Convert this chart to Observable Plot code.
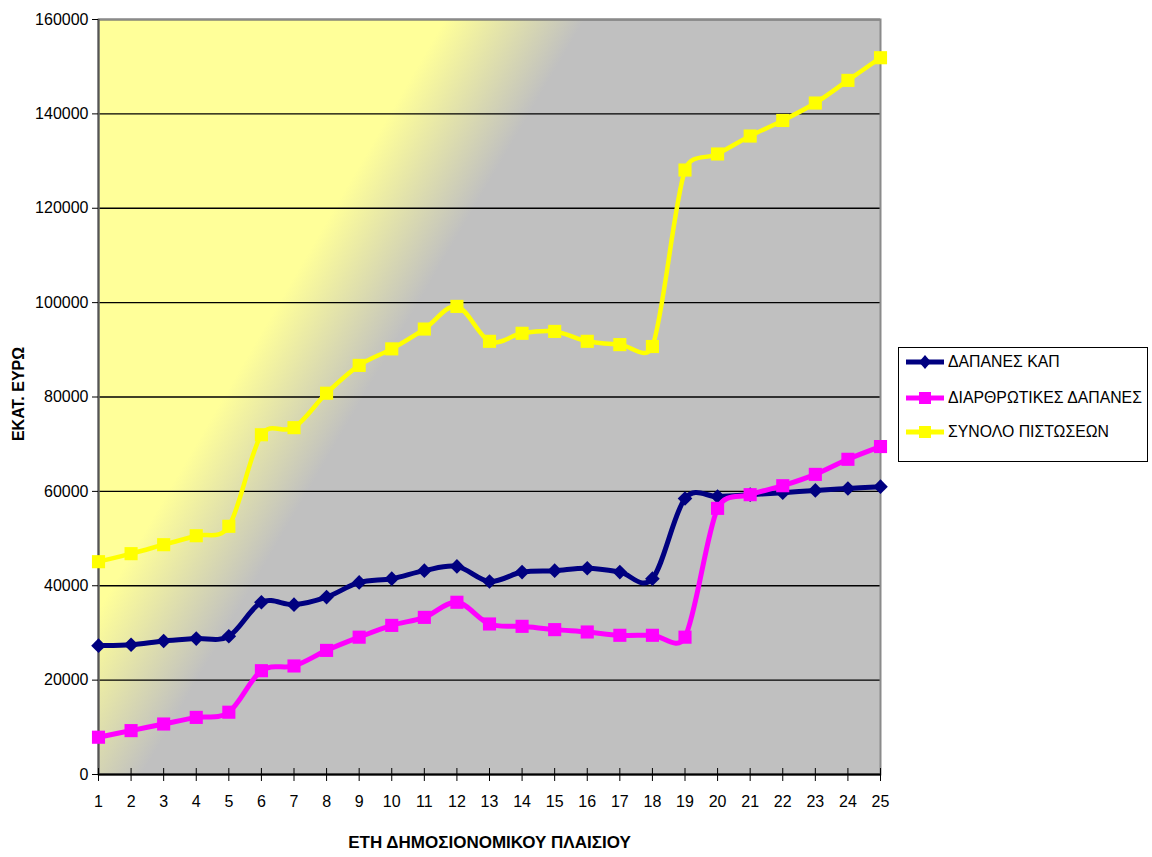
<!DOCTYPE html>
<html>
<head>
<meta charset="utf-8">
<script src="https://cdn.jsdelivr.net/npm/d3@7"></script>
<script src="https://cdn.jsdelivr.net/npm/@observablehq/plot@0.6"></script>
<style>
  html, body { margin: 0; padding: 0; background: white; }
  #wrap { position: relative; width: 1152px; height: 857px; font-family: "Liberation Sans", Arial, sans-serif; }
  #legend { position: absolute; left: 898px; top: 347px; width: 248px; height: 113px; border: 1px solid black; background: white; }
  .row { position: absolute; left: 6px; height: 20px; display: flex; align-items: center; color: black; white-space: nowrap; }
  .row svg { margin-right: 3px; flex: none; }
  .row span { display: inline-block; font-size: 17px; transform: scaleX(0.93); transform-origin: left center; }
</style>
</head>
<body>
<div id="wrap"></div>
<script>
const years = d3.range(1, 26);
const yTicks = d3.range(0, 160001, 20000);
const seriesNames = ["ΔΑΠΑΝΕΣ ΚΑΠ", "ΔΙΑΡΘΡΩΤΙΚΕΣ ΔΑΠΑΝΕΣ", "ΣΥΝΟΛΟ ΠΙΣΤΩΣΕΩΝ"];
const kap = [27300,27500,28300,28800,29300,36500,36000,37600,40700,41500,43200,44100,40900,42900,43200,43700,42900,41500,58500,58900,59300,59700,60200,60600,61000];
const diarth = [7900,9300,10700,12100,13200,22000,23000,26300,29100,31600,33300,36500,31900,31400,30700,30200,29500,29500,29100,56400,59300,61200,63600,66800,69500];
const synolo = [45100,46800,48700,50600,52600,72000,73500,80800,86700,90200,94400,99200,91800,93500,93900,91800,91100,90700,128100,131500,135300,138600,142300,147100,151900];
const xTitle = "ΕΤΗ ΔΗΜΟΣΙΟΝΟΜΙΚΟΥ ΠΛΑΙΣΙΟΥ";
const yTitle = "ΕΚΑΤ. ΕΥΡΩ";

const colors = ["#000080", "#FF00FF", "#FFFF00"];
const symbols = ["diamond2", "square", "square"];
const radii = [6.6, 7.4, 7.4];
const widths = [5, 5, 4.5];
const values = [kap, diarth, synolo];

// Spreadsheet-style smoothed line: Bezier segments with tangent (next - prev)/6,
// each control arm limited to half of its segment length.
function SmoothCurve(context) { this._context = context; }
SmoothCurve.prototype = {
  areaStart() {}, areaEnd() {},
  lineStart() { this._pts = []; },
  point(x, y) { this._pts.push([+x, +y]); },
  lineEnd() {
    const p = this._pts, c = this._context, n = p.length;
    if (!n) return;
    c.moveTo(p[0][0], p[0][1]);
    if (n === 1) return;
    const tan = p.map((pt, i) => {
      const a = p[Math.max(0, i - 1)], b = p[Math.min(n - 1, i + 1)];
      return [(b[0] - a[0]) / 6, (b[1] - a[1]) / 6];
    });
    const limit = (t, d) => {
      const m = Math.hypot(t[0], t[1]);
      const k = m > d / 2 && m > 0 ? (d / 2) / m : 1;
      return [t[0] * k, t[1] * k];
    };
    for (let i = 0; i < n - 1; i++) {
      const a = p[i], b = p[i + 1];
      const d = Math.hypot(b[0] - a[0], b[1] - a[1]);
      const o = limit(tan[i], d), q = limit(tan[i + 1], d);
      c.bezierCurveTo(a[0] + o[0], a[1] + o[1], b[0] - q[0], b[1] - q[1], b[0], b[1]);
    }
  }
};
const smooth = (context) => new SmoothCurve(context);

const marks = [
  Plot.frame({fill: "#C0C0C0", ariaLabel: "bg"}),
  Plot.gridY(yTicks, {stroke: "black", strokeOpacity: 1, strokeWidth: 1.3}),
  Plot.frame({stroke: "#8a8a8a", strokeWidth: 2}),
  Plot.ruleX([1], {stroke: "#555", strokeWidth: 2}),
  Plot.ruleY([0], {stroke: "black", strokeWidth: 2}),
  Plot.axisY(yTicks, {tickSize: 6, tickPadding: 4, tickFormat: d3.format("d"), label: null, fontSize: 16}),
  Plot.axisX(years, {tickSize: 13, dy: -6, tickPadding: 14, label: null, fontSize: 16, tickFormat: d3.format("d")})
];
values.forEach((vals, i) => {
  const data = years.map((y, j) => ({year: y, value: vals[j]}));
  marks.push(Plot.line(data, {x: "year", y: "value", stroke: colors[i], strokeWidth: widths[i], curve: smooth}));
  marks.push(Plot.dot(data, {x: "year", y: "value", symbol: symbols[i], fill: colors[i], r: radii[i], stroke: null}));
});
marks.push(Plot.text([xTitle], {frameAnchor: "bottom", dy: 73, fontSize: 17, fontWeight: "bold", ariaLabel: "xtitle"}));
marks.push(Plot.text([yTitle], {frameAnchor: "left", dx: -80, dy: -3, rotate: -90, textAnchor: "middle", fontSize: 16, fontWeight: "bold"}));

const chart = Plot.plot({
  width: 1152, height: 857,
  marginLeft: 98, marginTop: 19, marginRight: 272, marginBottom: 83,
  x: {domain: [1, 25]},
  y: {domain: [0, 160000]},
  style: {fontFamily: "Liberation Sans, Arial, sans-serif", fontSize: "16px", background: "white", color: "black", overflow: "visible"},
  marks
});

// gradient background
const ns = "http://www.w3.org/2000/svg";
const defs = document.createElementNS(ns, "defs");
const grad = document.createElementNS(ns, "linearGradient");
grad.setAttribute("id", "bgGrad");
grad.setAttribute("gradientUnits", "userSpaceOnUse");
grad.setAttribute("x1", 462); grad.setAttribute("y1", -11);
grad.setAttribute("x2", 566); grad.setAttribute("y2", 50);
[["0", "#FFFF99"], ["1", "#C0C0C0"]].forEach(([o, c]) => {
  const s = document.createElementNS(ns, "stop");
  s.setAttribute("offset", o); s.setAttribute("stop-color", c);
  grad.appendChild(s);
});
defs.appendChild(grad);
chart.insertBefore(defs, chart.firstChild);
let bg = chart.querySelector('[aria-label="bg"]');
if (bg && bg.tagName !== "rect") bg = bg.querySelector("rect");
if (bg) bg.setAttribute("fill", "url(#bgGrad)");
const xt = chart.querySelector('[aria-label="xtitle"] text') || chart.querySelector('[aria-label="xtitle"]');
if (xt && xt.tagName === "text") { xt.setAttribute("textLength", 288); xt.setAttribute("lengthAdjust", "spacingAndGlyphs"); }

const wrap = document.getElementById("wrap");
wrap.appendChild(chart);

// legend
const legend = document.createElement("div");
legend.id = "legend";
const centers = [14, 50, 84];
seriesNames.forEach((name, i) => {
  const row = document.createElement("div");
  row.className = "row";
  row.style.top = (centers[i] - 10) + "px";
  const sym = i === 0
    ? `<path d="M20,3 L26,10 L20,17 L14,10 Z" fill="${colors[i]}"/>`
    : `<rect x="14" y="4" width="12" height="12" fill="${colors[i]}"/>`;
  row.innerHTML = `<svg width="40" height="20"><line x1="1" x2="39" y1="10" y2="10" stroke="${colors[i]}" stroke-width="5"/>${sym}</svg><span>${name}</span>`;
  legend.appendChild(row);
});
wrap.appendChild(legend);
</script>
</body>
</html>
